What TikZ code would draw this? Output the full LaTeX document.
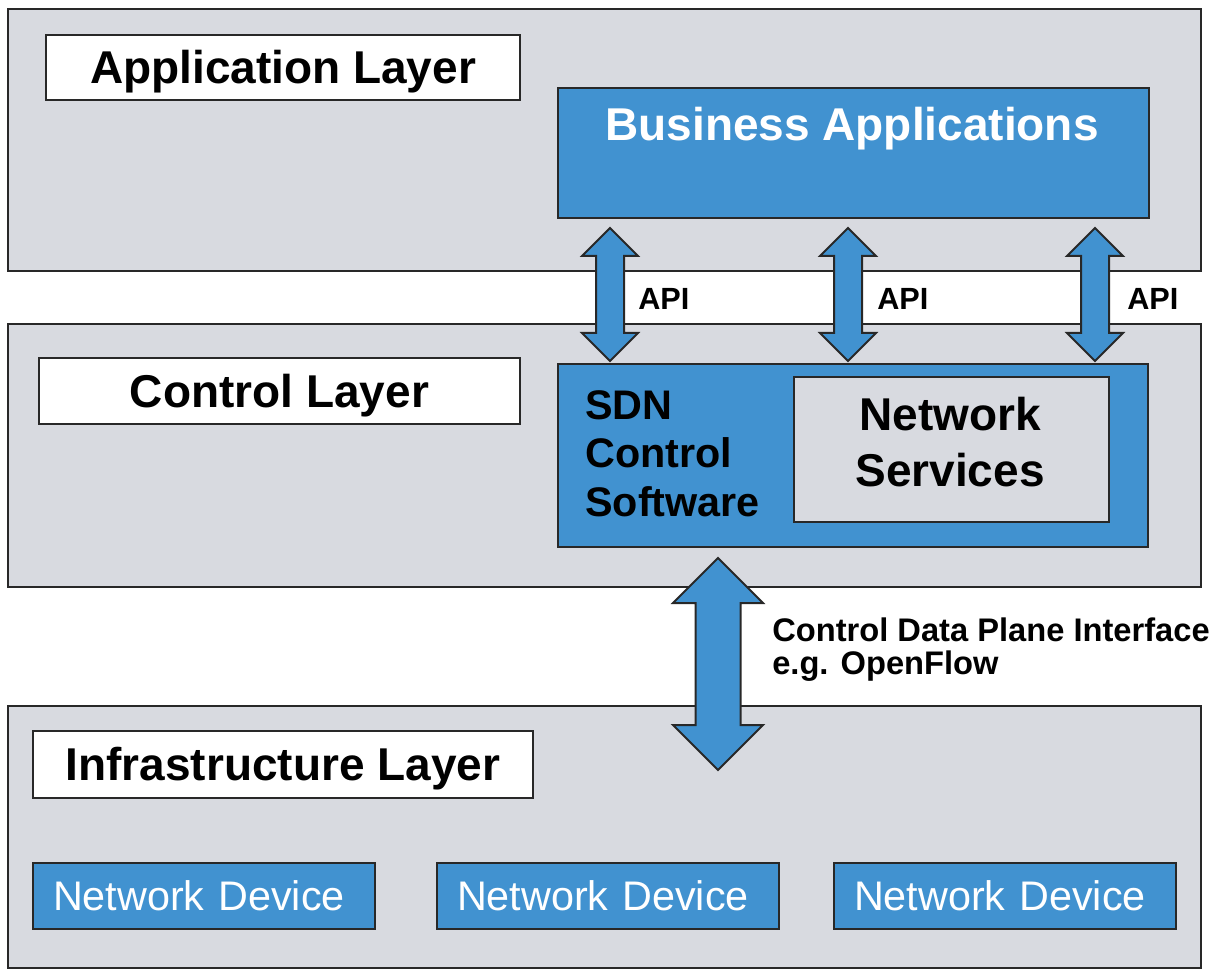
\documentclass[tikz,border=0pt]{standalone}
\usepackage{fontspec}
\setmainfont{Liberation Sans}
\usepackage{xcolor}
\usepackage{tikz}
\usetikzlibrary{calc}

\definecolor{layergray}{RGB}{216,218,224}
\definecolor{sdnblue}{RGB}{65,146,208}
\definecolor{edgegray}{RGB}{40,40,40}

% fat double arrow: #1 top tip, #2 bottom tip, #3 half shaft, #4 half head, #5 head length
\newcommand{\fatarrow}[5]{%
\draw [arrowbody] (#1) -- ++(#4,#5) -- ++(#3-#4,0) -- ($(#2)+(#3,-#5)$) -- ++(#4-#3,0) -- (#2) -- ++(-#4,-#5) -- ++(#4-#3,0) -- ($(#1)+(-#3,#5)$) -- ++(#3-#4,0) -- cycle ;}

\tikzset{
  layer/.style={draw=edgegray, line width=1.5pt, fill=layergray, anchor=north west, inner sep=0pt,
    minimum width=1193*0.75pt, minimum height=262*0.75pt},
  titlebox/.style={draw=edgegray, line width=1.5pt, fill=white, anchor=north west, inner sep=0pt,
    font=\fontsize{34.5}{41}\selectfont\bfseries, text height=24.7pt, text depth=0pt},
  bluebox/.style={draw=edgegray, line width=1.5pt, fill=sdnblue, anchor=north west, inner sep=0pt},
  devicebox/.style={bluebox, text=white, font=\fontsize{31}{37}\selectfont, align=left,
    text width=302*0.75pt, inner xsep=15pt, minimum height=66*0.75pt},
  arrowbody/.style={draw=edgegray, line width=1.5pt, fill=sdnblue, line join=miter},
  apilabel/.style={anchor=base west, inner sep=0pt, font=\fontsize{23}{27}\selectfont\bfseries},
}

\begin{document}
\begin{tikzpicture}[x=0.75pt,y=0.75pt,yscale=-1,xscale=1]
\useasboundingbox (0,0) rectangle (1210,973);
%Shape: Rectangle [layers]
\node (applayer) [layer] at (7,8) {};
\node (ctrllayer) [layer, minimum height=263*0.75pt] at (7,323) {};
\node (infralayer) [layer] at (7,705) {};
%Shape: Rectangle [layer titles]
\node (apptitle) [titlebox, minimum width=474*0.75pt, minimum height=65*0.75pt] at (45,34) {Application Layer};
\node (ctrltitle) [titlebox, minimum width=481*0.75pt, minimum height=66*0.75pt] at (38,357) {Control Layer};
\node (infratitle) [titlebox, minimum width=500*0.75pt, minimum height=67*0.75pt] at (32,730) {Infrastructure Layer};
%Shape: Rectangle [business applications]
\node (biz) [bluebox, minimum width=591*0.75pt, minimum height=130*0.75pt] at (557,87) {};
\node (bizlbl) [anchor=base, inner sep=0pt, text=white, font=\fontsize{34.5}{41}\selectfont\bfseries] at (852,141) {Business Applications};
%Shape: Rectangle [sdn controller]
\node (sdn) [bluebox, minimum width=590*0.75pt, minimum height=183*0.75pt] at (557,363) {};
\node (sdnlbl) [anchor=north west, inner sep=0pt, align=left, font=\fontsize{31}{36.4}\selectfont\bfseries] at (585,390) {SDN\\Control\\Software};
\node (services) [draw=edgegray, line width=1.5pt, fill=layergray, anchor=north west, inner sep=0pt,
  minimum width=315*0.75pt, minimum height=145*0.75pt] at (793,376) {};
\node (svclbl) [inner sep=0pt, align=center, font=\fontsize{34.5}{42}\selectfont\bfseries] at (950,442) {Network\\Services};
%Shape: Rectangle [devices]
\node (dev1) [devicebox] at (32,862) {Network Device};
\node (dev2) [devicebox] at (436,862) {Network Device};
\node (dev3) [devicebox] at (833,862) {Network Device};
%Arrows [api]
\coordinate (api1a) at (610,228);
\coordinate (api1b) at (610,361);
\coordinate (api2a) at (848,228);
\coordinate (api2b) at (848,361);
\coordinate (api3a) at (1095,228);
\coordinate (api3b) at (1095,361);
\fatarrow{api1a}{api1b}{14}{28}{28}
\fatarrow{api2a}{api2b}{14}{28}{28}
\fatarrow{api3a}{api3b}{14}{28}{28}
% Text Node
\node (api1lbl) [apilabel] at (638,310) {API};
\node (api2lbl) [apilabel] at (877,310) {API};
\node (api3lbl) [apilabel] at (1127,310) {API};
%Arrows [control data plane]
\coordinate (cdpa) at (718,558);
\coordinate (cdpb) at (718,770);
\fatarrow{cdpa}{cdpb}{22.5}{45}{45}
% Text Node
\node (cdpilbl) [anchor=north west, inner sep=0pt, align=left, font=\fontsize{24.5}{24.75}\selectfont\bfseries] at (772,618) {Control Data Plane Interface\\e.g. OpenFlow};
\end{tikzpicture}
\end{document}
